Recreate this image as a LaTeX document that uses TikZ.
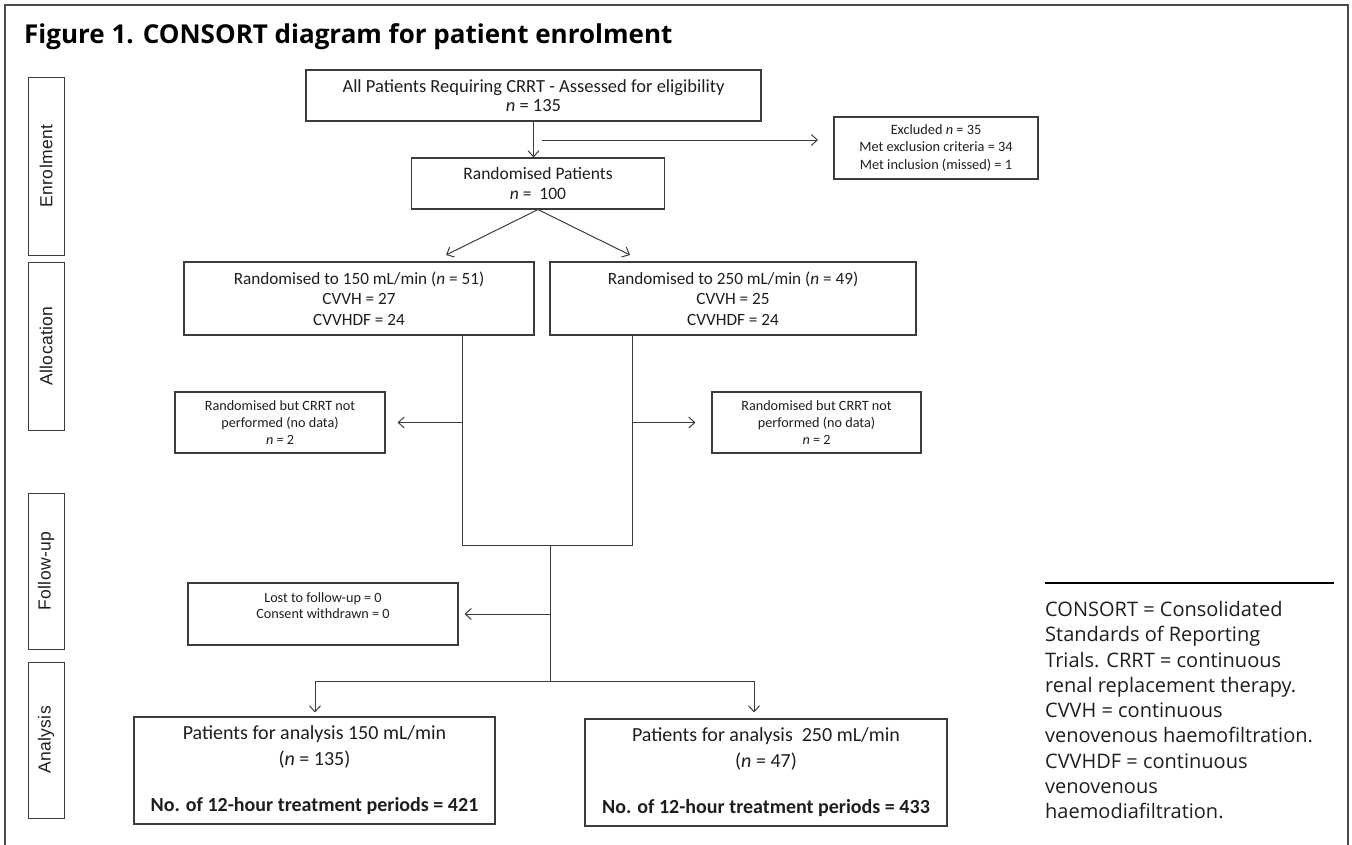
\documentclass[tikz,border=0pt]{standalone}
\usepackage{fontspec}
\setmainfont{Carlito}
\newfontfamily\titlefont{Open Sans}
\newfontfamily\labfont[LetterSpace=2]{Liberation Sans}
\newfontfamily\notefont{Open Sans}
\usetikzlibrary{arrows.meta,calc}
\definecolor{ln}{HTML}{3C3C3C}
\definecolor{txt}{HTML}{1E1E1E}
\newcommand{\myfs}[2]{\fontsize{#1}{#2}\selectfont}
\begin{document}
\begin{tikzpicture}[x=1pt,y=-1pt,
  box/.style={draw=ln, line width=1.1pt, inner sep=0pt, align=center, text=txt},
  side/.style={draw=ln, line width=1pt, inner sep=0pt, rotate=90, minimum height=36pt, text=txt, font=\labfont\myfs{17.5}{20}},
  conn/.style={draw=ln, line width=1pt},
  arr/.style={conn, -{Straight Barb[length=6pt,width=11pt]}}
]
\useasboundingbox (0,0) rectangle (1352,844);
% frame open at the bottom
\draw[draw=gray!60!black, line width=1.4pt] (5,846) -- (5,5) -- (1348,5) -- (1348,846);

% title
\node[anchor=base west, inner sep=0pt, text=black, font=\titlefont\bfseries\myfs{26}{30}] (title) at (24,43) {Figure 1. CONSORT diagram for patient enrolment};

% stage labels
\node[side, minimum width=178pt] (sEnr) at (46,166) {Enrolment};
\node[side, minimum width=168pt] (sAll) at (46,346) {Allocation};
\node[side, minimum width=156pt] (sFol) at (46,571) {Follow-up};
\node[side, minimum width=156pt] (sAna) at (46,740) {Analysis};

% boxes
\node[box, minimum width=455pt, minimum height=51pt, font=\myfs{18.5}{18.5}] (A) at (533.5,95.5)
  {All Patients Requiring CRRT - Assessed for eligibility\\\textit{n} = 135};
\node[box, minimum width=204pt, minimum height=62pt, font=\myfs{14.3}{17.5}] (Excl) at (936,148)
  {Excluded \textit{n} = 35\\Met exclusion criteria = 34\\Met inclusion (missed) = 1};
\node[box, minimum width=253pt, minimum height=51pt, font=\myfs{17.5}{20}] (Rand) at (538,183.5)
  {Randomised Patients\\\textit{n} =\ \ 100};
\node[box, minimum width=350pt, minimum height=73pt, font=\myfs{17.2}{20.5}] (R150) at (359,298.5)
  {Randomised to 150 mL/min (\textit{n} = 51)\\CVVH = 27\\CVVHDF = 24};
\node[box, minimum width=366pt, minimum height=73pt, font=\myfs{17.2}{20.5}] (R250) at (733,298.5)
  {Randomised to 250 mL/min (\textit{n} = 49)\\CVVH = 25\\CVVHDF = 24};
\node[box, minimum width=210pt, minimum height=61pt, font=\myfs{14.2}{17}] (ND1) at (280,422.5)
  {Randomised but CRRT not\\performed (no data)\\\textit{n} = 2};
\node[box, minimum width=209pt, minimum height=61pt, font=\myfs{14.2}{17}] (ND2) at (816.5,422.5)
  {Randomised but CRRT not\\performed (no data)\\\textit{n} = 2};
\node[box, minimum width=270pt, minimum height=62pt, font=\myfs{14.2}{16.5}] (LF) at (323,614)
  {Lost to follow-up = 0\\Consent withdrawn = 0\\\mbox{}};
\node[box, minimum width=361pt, minimum height=107pt, font=\myfs{20}{22}] (PA150) at (314.5,770.5)
  {Patients for analysis 150 mL/min\\[4pt](\textit{n} = 135)\\[24pt]\textbf{No. of 12-hour treatment periods = 421}};
\node[box, minimum width=362pt, minimum height=107pt, font=\myfs{20}{22}] (PA250) at (766,772.5)
  {Patients for analysis\ \ 250 mL/min\\[4pt](\textit{n} = 47)\\[24pt]\textbf{No. of 12-hour treatment periods = 433}};

% connectors
\draw[arr] (A.south) -- (A.south |- Rand.north);
\coordinate (ex0) at (542,140);
\coordinate (ex1) at (818,140);
\draw[arr] (ex0) -- (ex1);
\coordinate (dl) at (446,255);
\coordinate (dr) at (630,255);
\draw[arr] (Rand.south) -- (dl);
\draw[arr] (Rand.south) -- (dr);
\coordinate (L1) at (462,545);
\coordinate (R1) at (632.5,545);
\draw[conn] (L1 |- R150.south) -- (L1) -- (R1) -- (R1 |- R250.south);
\draw[arr, shorten >=12pt] (L1 |- ND1.east) -- (ND1.east);
\draw[arr, shorten >=16pt] (R1 |- ND2.west) -- (ND2.west);
\coordinate (C1) at (550,545);
\coordinate (C2) at (550,681);
\draw[conn] (C1) -- (C2);
\draw[arr, shorten >=6pt] (C1 |- LF.east) -- (LF.east);
\coordinate (s1) at (315,681);
\coordinate (s2) at (754,681);
\draw[conn] (s1) -- (s2);
\draw[arr, shorten >=4pt] (s1) -- (s1 |- PA150.north);
\draw[arr, shorten >=6pt] (s2) -- (s2 |- PA250.north);

% footnote
\coordinate (fn0) at (1045,583);
\coordinate (fn1) at (1334,583);
\draw[black, line width=1.3pt] (fn0) -- (fn1);
\node[anchor=north west, inner sep=0pt, align=left, text=txt, font=\notefont\myfs{20}{25.3}] (note) at (1045,601)
  {CONSORT = Consolidated\\Standards of Reporting\\Trials. CRRT = continuous\\renal replacement therapy.\\CVVH = continuous\\venovenous haemofiltration.\\CVVHDF = continuous\\venovenous\\haemodiafiltration.};
\end{tikzpicture}
\end{document}
